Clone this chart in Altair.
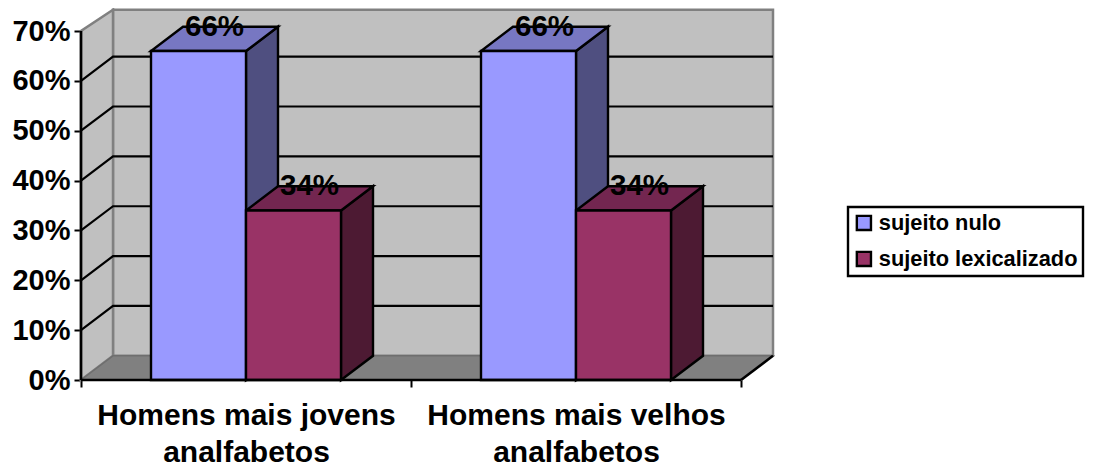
import altair as alt
import pandas as pd

# Values
categories = ["Homens mais jovens\nanalfabetos", "Homens mais velhos\nanalfabetos"]
series = ["sujeito nulo", "sujeito lexicalizado"]
values = {"sujeito nulo": [66, 66], "sujeito lexicalizado": [34, 34]}
y_ticks = [0, 10, 20, 30, 40, 50, 60, 70]
grid_levels = [10, 20, 30, 40, 50, 60]

front_colors = ["#9999FF", "#993366"]
top_colors = ["#7777C2", "#732650"]
side_colors = ["#4F4F80", "#4D1A33"]

FONT = "Liberation Sans"
W, H = 692, 372
PX_PER_CAT = 330.0
PX_PER_PCT = 349 / 70
DX = 32 / PX_PER_CAT          # depth of the pseudo-3D box, in category units
DY = 24.2 / PX_PER_PCT        # depth of the pseudo-3D box, in percent units
BAR_W = 95 / PX_PER_CAT
GAP = 70 / PX_PER_CAT
WALL_TOP = 74.25
X_MAX = W / PX_PER_CAT
Y_MAX = H / PX_PER_PCT

xs = alt.Scale(domain=[0, X_MAX], nice=False, zero=False)
ys = alt.Scale(domain=[0, Y_MAX], nice=False, zero=False)

fronts, sides, tops, labels = [], [], [], []
for c in range(len(categories)):
    for s, name in enumerate(series):
        v = values[name][c]
        x0 = c + GAP + s * BAR_W
        x1 = x0 + BAR_W
        face = f"{c}-{s}"
        fronts.append(dict(s=name, x=x0, x2=x1, y=0, y2=v))
        for t in (0, 1):
            sides.append(dict(s=name, face=face, x=x1 + t * DX, y=t * DY, y2=v + t * DY))
            tops.append(dict(s=name, face=face, y=v + t * DY, x=x0 + t * DX, x2=x1 + t * DX))
        labels.append(dict(x=(x0 + x1) / 2 + DX / 2, y=v + DY, t=f"{v}%"))

grid = []
for v in grid_levels:
    grid += [dict(g=v, x=0, y=v), dict(g=v, x=DX, y=v + DY), dict(g=v, x=2 + DX, y=v + DY)]

axis_lines = [
    dict(g="y", x=0, y=0), dict(g="y", x=0, y=70),
    dict(g="x", x=0, y=0), dict(g="x", x=2, y=0),
    dict(g="r", x=2, y=0), dict(g="r", x=2 + DX, y=DY),
]

X = lambda f="x": alt.X(f"{f}:Q", scale=xs, axis=None)
Y = lambda f="y": alt.Y(f"{f}:Q", scale=ys, axis=None)

x_label_expr = (
    "datum.value == 0.5 ? " + str(categories[0].split("\n"))
    + " : datum.value == 1.5 ? " + str(categories[1].split("\n")) + " : ''"
)

axes_layer = alt.Chart(pd.DataFrame({"x": [0.0], "y": [0.0]})).mark_point(opacity=0).encode(
    x=alt.X("x:Q", scale=xs, title=None, axis=alt.Axis(
        values=[0, 0.5, 1, 1.5, 2], domain=False, grid=False,
        tickSize=7, tickWidth=2,
        tickColor={"condition": {"test": "datum.value % 1 != 0", "value": "transparent"}, "value": "black"},
        labelExpr=x_label_expr, labelFont=FONT, labelFontWeight="bold", labelFontSize=30,
        labelColor="black", labelLineHeight=37, labelPadding=13, labelOverlap=False, labelLimit=400,
        labelFlush=False, labelBound=False, labelAngle=0, orient="bottom")),
    y=alt.Y("y:Q", scale=ys, title=None, axis=alt.Axis(
        values=y_ticks, domain=False, grid=False, tickSize=7, tickWidth=2, tickColor="black",
        labelExpr="datum.value + '%'", labelFont=FONT, labelFontWeight="bold", labelFontSize=29,
        labelColor="black", labelPadding=4, labelOverlap=False, labelFlush=False, labelBound=False,
        orient="left")),
)

wall_style = dict(fill="#C0C0C0", stroke="#808080", strokeWidth=2.5)
back_wall = alt.Chart(pd.DataFrame([dict(x=DX, x2=2 + DX, y=DY, y2=WALL_TOP)])).mark_rect(**wall_style).encode(
    x=X(), x2="x2:Q", y=Y(), y2="y2:Q")
left_wall = alt.Chart(pd.DataFrame([dict(x=0, y=0, y2=70), dict(x=DX, y=DY, y2=WALL_TOP)])).mark_area(
    orient="vertical", **wall_style).encode(x=X(), y=Y(), y2="y2:Q")
floor = alt.Chart(pd.DataFrame([dict(y=0, x=0, x2=2), dict(y=DY, x=DX, x2=2 + DX)])).mark_area(
    orient="horizontal", fill="#808080", stroke="#6E6E6E", strokeWidth=1.5).encode(y=Y(), x=X(), x2="x2:Q")
grid_lines = alt.Chart(pd.DataFrame(grid)).mark_line(color="black", strokeWidth=2.2).encode(
    x=X(), y=Y(), detail="g:N")

bar_style = dict(stroke="black", strokeWidth=2.4, opacity=1)
side_faces = alt.Chart(pd.DataFrame(sides)).mark_area(orient="vertical", **bar_style).encode(
    x=X(), y=Y(), y2="y2:Q", detail="face:N",
    color=alt.Color("s:N", scale=alt.Scale(domain=series, range=side_colors), legend=None))
top_faces = alt.Chart(pd.DataFrame(tops)).mark_area(orient="horizontal", **bar_style).encode(
    y=Y(), x=X(), x2="x2:Q", detail="face:N",
    color=alt.Color("s:N", scale=alt.Scale(domain=series, range=top_colors), legend=None))
front_faces = alt.Chart(pd.DataFrame(fronts)).mark_rect(**bar_style).encode(
    x=X(), x2="x2:Q", y=Y(), y2="y2:Q",
    color=alt.Color("s:N", scale=alt.Scale(domain=series, range=front_colors), sort=series, title=None,
                    legend=alt.Legend(orient="none", legendX=767, legendY=199, title=None)))
axis_marks = alt.Chart(pd.DataFrame(axis_lines)).mark_line(color="black", strokeWidth=2.6).encode(
    x=X(), y=Y(), detail="g:N")
value_labels = alt.Chart(pd.DataFrame(labels)).mark_text(
    font=FONT, fontWeight="bold", fontSize=29.5, color="black", baseline="middle").encode(
    x=X(), y=Y(), text="t:N")

chart = alt.layer(
    axes_layer, back_wall, left_wall, floor, grid_lines,
    side_faces, top_faces, front_faces, axis_marks, value_labels,
).resolve_scale(color="independent").resolve_axis(x="independent", y="independent").properties(
    width=W, height=H,
    autosize=alt.AutoSizeParams(type="none"),
    padding={"left": 73, "top": 0, "right": 312, "bottom": 86},
    background="white",
).configure_view(stroke=None).configure_legend(
    fillColor="white", strokeColor="black", strokeWidth=2.4, padding=5,
    symbolType="square", symbolSize=200, symbolStrokeColor="black", symbolStrokeWidth=2.4,
    symbolOpacity=1, labelFont=FONT, labelFontWeight="bold", labelFontSize=21.8, labelColor="black",
    labelOffset=4, rowPadding=12, labelLimit=300,
)

chart.save("out.html", embed_options={"renderer": "svg", "actions": False})
